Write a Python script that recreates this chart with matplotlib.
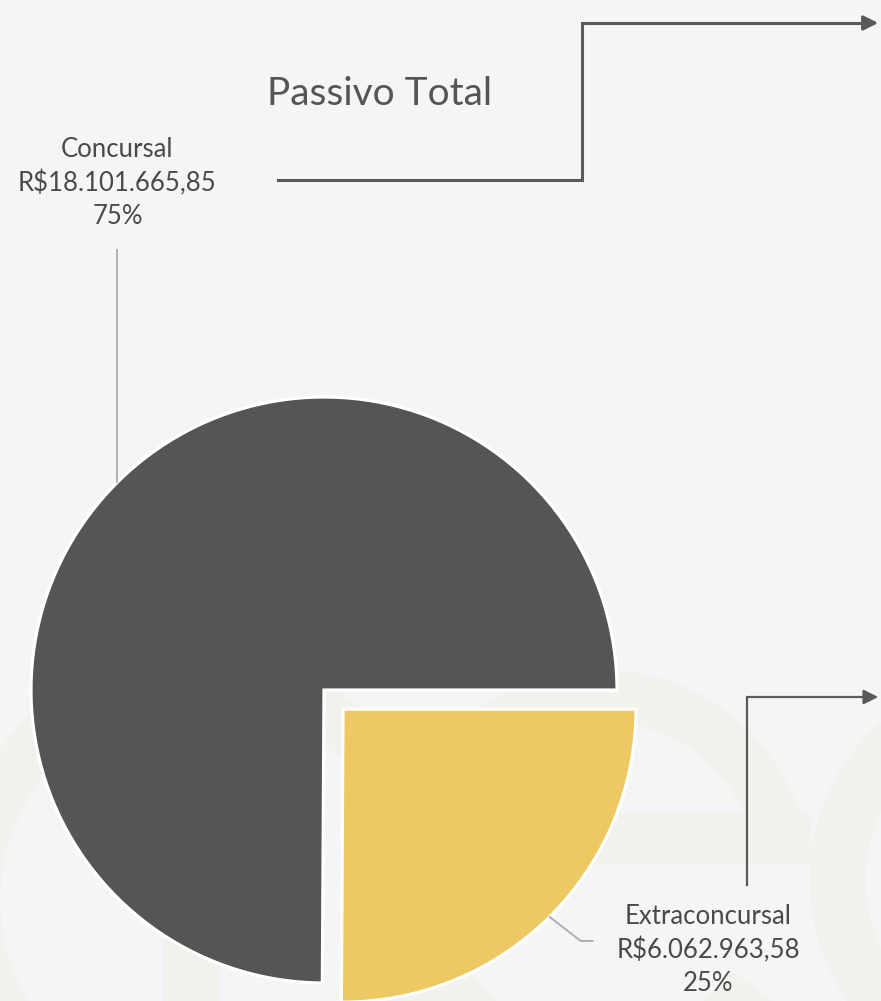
import numpy as np
import matplotlib
matplotlib.use("Agg")
import matplotlib.pyplot as plt
from matplotlib.patches import Wedge, Rectangle

# data
labels = ["Concursal", "Extraconcursal"]
values = [18101665.85, 6062963.58]
value_text = ["R$18.101.665,85", "R$6.062.963,58"]
pct_text = ["75%", "25%"]
colors = ["#555555", "#EEC862"]

bg = "#F4F5F7"
mark = "#F2F1EE"
text_col = "#4a4a4a"
line_col = "#5a5a5a"
lead_col = "#aaaaaa"

plt.rcParams["font.family"] = ["Lato", "DejaVu Sans"]

fig = plt.figure(figsize=(8.81, 10.01), dpi=100, facecolor=bg)
ax = fig.add_axes([0, 0, 1, 1])
ax.set_facecolor(bg)

# faint background logo letters
ax.add_patch(Wedge((200, 101), 250, 0, 360, width=50, color=mark, zorder=0))
ax.add_patch(Rectangle((163, 0), 56, 61, color=mark, zorder=0))
ax.add_patch(Wedge((600, 121), 210, 8, 325, width=50, color=mark, zorder=0))
ax.add_patch(Rectangle((440, 139), 370, 49, color=mark, zorder=0))
ax.add_patch(Wedge((1020, 121), 210, 0, 360, width=55, color=mark, zorder=0))

center = (324, 311)
radius = 293
# explode is in data units (pixels here)
wedges, _ = ax.pie(values, colors=colors, startangle=0, counterclock=True,
                   center=center, radius=radius, explode=[0, 27],
                   wedgeprops=dict(edgecolor="white", linewidth=2.3))

# leader lines from slice middles
def edge_point(w):
    mid = np.deg2rad((w.theta1 + w.theta2) / 2)
    cx, cy = w.center
    return cx + w.r * np.cos(mid), cy + w.r * np.sin(mid)

x0, y0 = edge_point(wedges[0])
ax.plot([x0, x0], [y0, 751], color=lead_col, lw=1.3, zorder=3)
x1, y1 = edge_point(wedges[1])
ax.plot([x1, x1 + 31, x1 + 43], [y1, y1 - 24, y1 - 24], color=lead_col, lw=1.3, zorder=3)

ax.text(x0, 818, f"{labels[0]}\n{value_text[0]}\n{pct_text[0]}", ha="center", va="center",
        fontsize=18.5, color=text_col, linespacing=1.38)
ax.text(708, 51, f"{labels[1]}\n{value_text[1]}\n{pct_text[1]}", ha="center", va="center",
        fontsize=18.5, color=text_col, linespacing=1.38)

ax.text(380, 907, "Passivo Total", ha="center", va="center", fontsize=28,
        color="#555555")

# connector arrows
ax.plot([278, 582, 582, 866], [821, 821, 978, 978], color=line_col, lw=2.2,
        solid_joinstyle="miter", zorder=3)
ax.annotate("", xy=(881, 978), xytext=(860, 978),
            arrowprops=dict(arrowstyle="-|>", color=line_col, lw=2.2, mutation_scale=22))
ax.plot([747, 747, 866], [116, 304, 304], color=line_col, lw=1.6,
        solid_joinstyle="miter", zorder=3)
ax.annotate("", xy=(881, 304), xytext=(860, 304),
            arrowprops=dict(arrowstyle="-|>", color=line_col, lw=1.6, mutation_scale=22))

ax.set_xlim(0, 881)
ax.set_ylim(0, 1001)
ax.set_aspect("equal")
ax.axis("off")

fig.savefig("out.png", dpi=100, facecolor=bg)
